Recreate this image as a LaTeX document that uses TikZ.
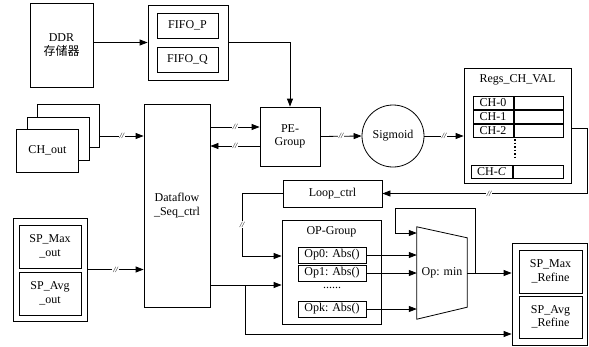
\documentclass[tikz,border=0pt]{standalone}
\usepackage{fontspec}
\setmainfont{Liberation Serif}
\usetikzlibrary{arrows.meta,positioning}

\begin{document}
\begin{tikzpicture}[x=1pt,y=-1pt,font=\fontsize{12}{13.5}\selectfont]

	\tikzset{
	  blk/.style={draw, line width=0.8pt, inner sep=0pt, align=center},
	  inbox/.style={draw, line width=1pt, inner sep=0pt, align=center},
	  cell/.style={draw, line width=1pt, inner sep=0pt, minimum height=13pt},
	  arr/.style={line width=0.8pt, -{Triangle[length=8pt,width=6pt]}},
	  slash/.style={fill=white, inner sep=1pt, font=\fontsize{8}{8}\selectfont\itshape},
	}
	\useasboundingbox (0,0) rectangle (589,346);

	% memory side
	\node[blk, minimum width=63pt, minimum height=84pt] (ddr) at (61.5,45) {DDR\\{\fontspec{Noto Sans CJK SC}存储器}};
	\node[blk, minimum width=80pt, minimum height=75pt] (fifo) at (188,42.5) {};
	\node[inbox, minimum width=61pt, minimum height=25pt] (fifop) at (187.5,25.5) {FIFO\_P};
	\node[inbox, minimum width=61pt, minimum height=25pt] (fifoq) at (187.5,59.5) {FIFO\_Q};

	% channel outputs
	\node[blk, fill=white, minimum width=62pt, minimum height=43pt] (chback) at (68.5,125.5) {};
	\node[blk, fill=white, minimum width=62pt, minimum height=43pt] (chmid) at (58,138.5) {};
	\node[blk, fill=white, minimum width=62pt, minimum height=43pt] (chout) at (47.5,150.5) {CH\_out};

	\node[blk, minimum width=66pt, minimum height=203pt] (dataflow) at (177,205.5) {Dataflow\\\_Seq\_ctrl};
	\node[blk, minimum width=60pt, minimum height=59pt] (pe) at (290,136.5) {PE-\\Group};
	\node[blk, circle, minimum size=62pt] (sig) at (393,136) {Sigmoid};

	% register file
	\node[blk, minimum width=107pt, minimum height=115pt] (regs) at (517.5,125.5) {};
	\node (regsname) at (517.5,80) {Regs\_CH\_VAL};
	\node[cell, minimum width=40pt] (ch0) at (493,102.5) {CH-0};
	\node[cell, minimum width=49pt, right=0pt of ch0] (ch0v) {};
	\node[cell, minimum width=40pt, below=0pt of ch0] (ch1) {CH-1};
	\node[cell, minimum width=49pt, right=0pt of ch1] (ch1v) {};
	\node[cell, minimum width=40pt, below=0pt of ch1] (ch2) {CH-2};
	\node[cell, minimum width=49pt, right=0pt of ch2] (ch2v) {};
	\node[cell, minimum width=41pt] (chc) at (491.5,172) {CH-\textit{C}};
	\node[cell, minimum width=50pt, right=0pt of chc] (chcv) {};
	\draw[line width=1.5pt, dotted] (515,139) -- (515,160);

	\node[blk, minimum width=99pt, minimum height=27pt] (loop) at (332.5,193.5) {Loop\_ctrl};

	% operator group
	\node[blk, minimum width=99pt, minimum height=104pt] (opg) at (331.5,272) {};
	\node (opgname) at (331.5,232) {OP-Group};
	\node[inbox, minimum width=68pt, minimum height=16pt] (op0) at (332,255) {Op0: Abs()};
	\node[inbox, minimum width=68pt, minimum height=16pt] (op1) at (332,273) {Op1: Abs()};
	\node (opdots) at (332,288) {......};
	\node[inbox, minimum width=68pt, minimum height=16pt] (opk) at (332,309) {Opk: Abs()};

	\node[minimum width=50pt, minimum height=92pt, inner sep=0pt] (mux) at (442,273) {Op: min};
	\draw[line width=0.8pt] (mux.north west) -- ([yshift=-11pt]mux.north east)
		-- ([yshift=12pt]mux.south east) -- (mux.south west) -- cycle;

	% results
	\node[blk, minimum width=75pt, minimum height=102pt] (spref) at (549.5,294) {};
	\node[inbox, minimum width=63pt, minimum height=43pt] (spmaxref) at (550.5,271.5) {SP\_Max\\\_Refine};
	\node[inbox, minimum width=63pt, minimum height=42pt] (spavgref) at (550.5,317) {SP\_Avg\\\_Refine};

	\node[blk, minimum width=74pt, minimum height=103pt] (spout) at (50,269.5) {};
	\node[inbox, minimum width=62pt, minimum height=43pt] (spmax) at (50,246.5) {SP\_Max\\\_out};
	\node[inbox, minimum width=62pt, minimum height=43pt] (spavg) at (50,293.5) {SP\_Avg\\\_out};

	% connections
	\draw[arr] (fifo.west -| ddr.east) -- (fifo.west);
	\draw[arr] (fifo.east) -| (pe.north);
	\draw[arr] ([yshift=-10.5pt]chback.east) -- node[slash]{//} ([yshift=-10.5pt]chback.east -| dataflow.west);
	\path ([yshift=9.5pt]pe.west) coordinate (pein) ([yshift=-9.5pt]pe.west) coordinate (peout);
	\draw[arr] (pein -| dataflow.east) -- node[slash]{//} (pein);
	\draw[arr] (peout) -- node[slash]{//} (peout -| dataflow.east);
	\draw[arr] (pe.east) -- node[slash]{//} (sig.west);
	\draw[arr] (sig.east) -- node[slash]{//} (sig.east -| regs.west);
	\draw[arr] ([yshift=-2.5pt]regs.east) -- ++(16,0) |- node[slash, pos=0.74]{//} (loop.east);
	\path ([yshift=16pt]opg.west) coordinate (opin) ([yshift=-13pt]opg.west) coordinate (opin2);
	\draw[arr] (loop.west) -- ++(-40.5,0) |- node[slash, pos=0.25]{//} (opin);
	\draw[arr] (opin2 -| dataflow.east) -- (opin2);
	\draw[arr] (opin2 -| dataflow.east) ++(35,0) |- ([yshift=-40pt]spref.west);
	\draw[arr] (spout.east) -- node[slash]{//} (spout.east -| dataflow.west);
	\draw[arr] (op0.east) -- (op0.east -| mux.west);
	\draw[arr] (op1.east) -- (op1.east -| mux.west);
	\draw[arr] (opk.east) -- (opk.east -| mux.west);
	\draw[arr] (mux.east) -- (mux.east -| spref.west);
	\draw[arr] ([xshift=8pt]mux.east) |- (395,208) |- ([yshift=40pt]mux.west);

\end{tikzpicture}
\end{document}
